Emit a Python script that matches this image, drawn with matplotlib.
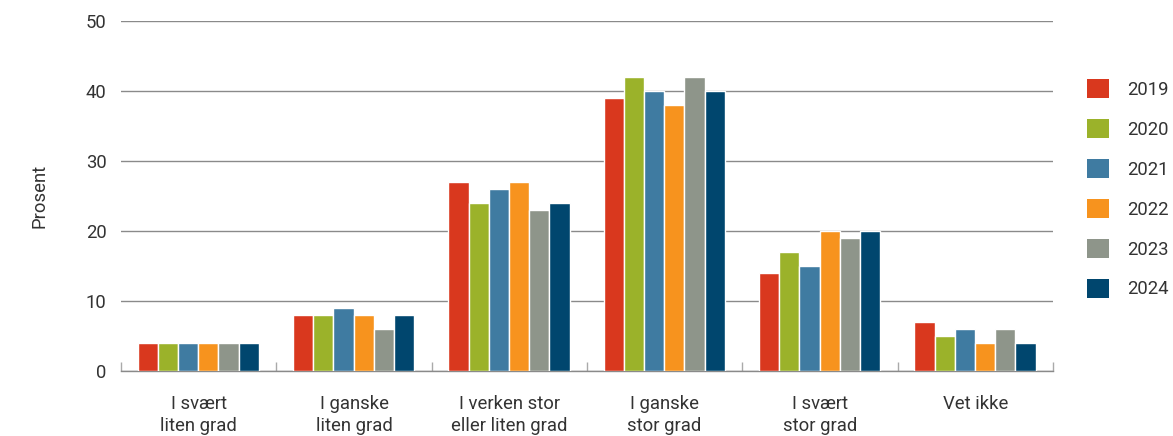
import matplotlib
matplotlib.use("Agg")
import matplotlib.pyplot as plt
import numpy as np
from matplotlib.patches import Patch

categories = ["I svært\nliten grad", "I ganske\nliten grad", "I verken stor\neller liten grad",
              "I ganske\nstor grad", "I svært\nstor grad", "Vet ikke"]
years = ["2019", "2020", "2021", "2022", "2023", "2024"]
values = {
    "2019": [4, 8, 27, 39, 14, 7],
    "2020": [4, 8, 24, 42, 17, 5],
    "2021": [4, 9, 26, 40, 15, 6],
    "2022": [4, 8, 27, 38, 20, 4],
    "2023": [4, 6, 23, 42, 19, 6],
    "2024": [4, 8, 24, 40, 20, 4],
}
colors = ["#D9381E", "#9BB22A", "#3F7BA1", "#F7931E", "#8E958A", "#00466E"]
yticks = [0, 10, 20, 30, 40, 50]

plt.rcParams['font.family'] = ['Roboto', 'DejaVu Sans']
text_color = "#333333"
grid_color = "#8a8a8a"
fs = 13.3

fig = plt.figure(figsize=(11.73, 4.36), dpi=100)
ax = fig.add_axes([121/1173, 1-371/436, (1053-121)/1173, (371-21)/436])

slot = 0.130
start = 0.1075 - 0.5
x = np.arange(len(categories))
for i, (yr, c) in enumerate(zip(years, colors)):
    ax.bar(x + start + slot*(i+0.5), values[yr], width=slot, color=c,
           edgecolor="white", linewidth=1.0, zorder=3)

ax.set_xlim(-0.5, len(categories)-0.5)
ax.set_ylim(0, 50)
ax.set_yticks(yticks)
ax.yaxis.grid(True, color=grid_color, linewidth=1.0, zorder=0)
for s in ["top", "right", "left"]:
    ax.spines[s].set_visible(False)
ax.spines["bottom"].set_color(grid_color)
ax.spines["bottom"].set_linewidth(1.0)
ax.tick_params(axis="y", length=0, pad=10.5, labelsize=fs, labelcolor=text_color)
ax.set_xticks(x)
ax.set_xticklabels(categories, linespacing=1.3)
ax.tick_params(axis="x", which="major", length=0, pad=17, labelsize=fs, labelcolor=text_color)
ax.set_xticks(np.arange(-0.5, len(categories)), minor=True)
ax.tick_params(axis="x", which="minor", direction="in", length=6.5, color="#aaaaaa", width=1)
ax.set_ylabel("Prosent", fontsize=fs, color=text_color, labelpad=27)

handles = [Patch(facecolor=c, edgecolor="none") for c in colors]
fig.legend(handles, years, loc="upper left", bbox_to_anchor=(1087/1173, 1-79/436),
           frameon=False, fontsize=fs, labelcolor=text_color, borderpad=0, borderaxespad=0,
           handlelength=1.19, handleheight=1.19, handletextpad=1.0, labelspacing=1.1)

fig.savefig("out.png", dpi=100)
